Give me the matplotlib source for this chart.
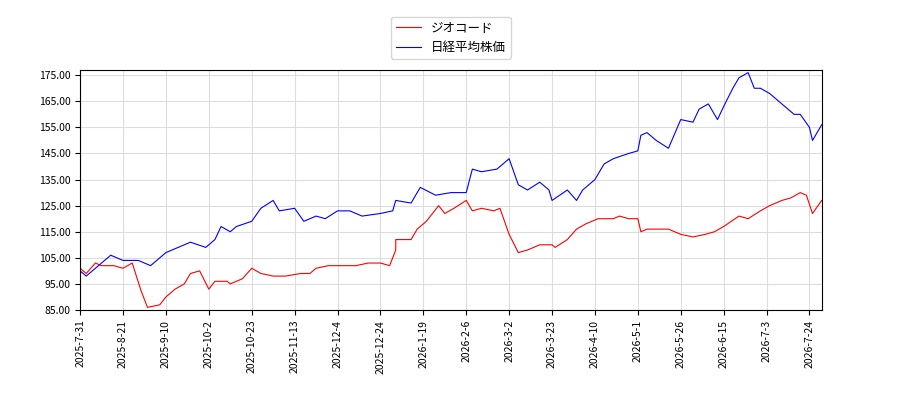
import matplotlib
matplotlib.use("Agg")
import matplotlib.pyplot as plt
import numpy as np
import pandas as pd

plt.rcParams['font.family'] = ['Noto Sans CJK JP', 'DejaVu Sans']

# ジオコード (red)
geo_dates = ["2025-07-31", "2025-08-03", "2025-08-07", "2025-08-12", "2025-08-18", "2025-08-21",
             "2025-08-26", "2025-08-29", "2025-09-02", "2025-09-06", "2025-09-10", "2025-09-15",
             "2025-09-19", "2025-09-24", "2025-09-28", "2025-10-02", "2025-10-06", "2025-10-10",
             "2025-10-14", "2025-10-18", "2025-10-23", "2025-10-28", "2025-11-03", "2025-11-10",
             "2025-11-15", "2025-11-20", "2025-11-25", "2025-12-01", "2025-12-06", "2025-12-12",
             "2025-12-18", "2025-12-24", "2025-12-28", "2026-01-02", "2026-01-05", "2026-01-10",
             "2026-01-15", "2026-01-20", "2026-01-24", "2026-01-28", "2026-02-02", "2026-02-06",
             "2026-02-10", "2026-02-15", "2026-02-20", "2026-02-25", "2026-03-01", "2026-03-05",
             "2026-03-10", "2026-03-15", "2026-03-20", "2026-03-24", "2026-03-28", "2026-04-02",
             "2026-04-07", "2026-04-12", "2026-04-18", "2026-04-22", "2026-04-26", "2026-05-01",
             "2026-05-05", "2026-05-10", "2026-05-15", "2026-05-20", "2026-05-26", "2026-05-31",
             "2026-06-05", "2026-06-10", "2026-06-15", "2026-06-20", "2026-06-25", "2026-07-01",
             "2026-07-05", "2026-07-10", "2026-07-15", "2026-07-19", "2026-07-23", "2026-07-27",
             "2026-07-30"]
geo_vals = [101, 99, 103, 102, 102, 101, 103, 92, 86, 87, 90, 93,
            95, 99, 100, 93, 96, 96, 95, 97, 101, 99, 98, 98,
            99, 99, 101, 102, 102, 102, 103, 103, 102, 108, 112, 112,
            116, 119, 125, 122, 124, 127, 123, 124, 123, 124, 114, 107,
            108, 110, 110, 109, 112, 116, 118, 120, 120, 121, 120, 120,
            115, 116, 116, 116, 114, 113, 114, 115, 117, 121, 120, 123,
            125, 127, 128, 130, 129, 122, 127]

# 日経平均株価 (blue)
nk_dates = ["2025-07-31", "2025-08-03", "2025-08-10", "2025-08-15", "2025-08-21", "2025-08-28",
            "2025-09-03", "2025-09-10", "2025-09-17", "2025-09-24", "2025-10-01", "2025-10-04",
            "2025-10-08", "2025-10-12", "2025-10-16", "2025-10-23", "2025-10-28", "2025-11-02",
            "2025-11-06", "2025-11-13", "2025-11-18", "2025-11-23", "2025-11-28", "2025-12-04",
            "2025-12-10", "2025-12-16", "2025-12-24", "2025-12-30", "2026-01-05", "2026-01-10",
            "2026-01-16", "2026-01-23", "2026-01-30", "2026-02-06", "2026-02-10", "2026-02-16",
            "2026-02-22", "2026-03-01", "2026-03-05", "2026-03-10", "2026-03-14", "2026-03-19",
            "2026-03-23", "2026-03-28", "2026-04-02", "2026-04-06", "2026-04-10", "2026-04-15",
            "2026-04-20", "2026-04-26", "2026-05-01", "2026-05-04", "2026-05-10", "2026-05-14",
            "2026-05-20", "2026-05-26", "2026-05-30", "2026-06-03", "2026-06-07", "2026-06-11",
            "2026-06-15", "2026-06-18", "2026-06-22", "2026-06-25", "2026-06-28", "2026-07-01",
            "2026-07-04", "2026-07-08", "2026-07-12", "2026-07-16", "2026-07-20", "2026-07-24",
            "2026-07-27", "2026-07-30"]
nk_vals = [100, 98, 103, 106, 104, 104, 102, 107, 109, 111, 109, 112,
           117, 115, 117, 119, 124, 127, 123, 124, 119, 121, 120, 123,
           123, 121, 122, 123, 127, 126, 132, 129, 130, 130, 139, 138,
           139, 143, 133, 131, 134, 131, 127, 131, 127, 131, 135, 141,
           143, 145, 146, 152, 153, 150, 147, 158, 157, 162, 164, 158,
           163, 170, 174, 176, 170, 170, 168, 166, 163, 160, 160, 155,
           150, 156]

tick_dates = ["2025-07-31", "2025-08-21", "2025-09-10", "2025-10-02", "2025-10-23", "2025-11-13",
              "2025-12-04", "2025-12-24", "2026-01-19", "2026-02-06", "2026-03-02", "2026-03-23",
              "2026-04-10", "2026-05-01", "2026-05-26", "2026-06-15", "2026-07-03", "2026-07-24"]
y_ticks = [85, 95, 105, 115, 125, 135, 145, 155, 165, 175]

# 取引日ベースの横軸（市場休日）
holidays = ["2025-08-11", "2025-09-15", "2025-09-23", "2025-10-13", "2025-11-03", "2025-11-24",
            "2025-12-31", "2026-01-01", "2026-01-02", "2026-01-12", "2026-02-11", "2026-02-23",
            "2026-03-20", "2026-04-29", "2026-05-04", "2026-05-05", "2026-05-06", "2026-07-20"]
START = "2025-07-31"


def to_x(dates):
    d = np.array(dates, dtype="datetime64[D]")
    return np.busday_count(START, d, holidays=holidays)


fig = plt.figure(figsize=(9, 4), dpi=100)
ax = fig.add_axes([0.089, 0.225, 0.824, 0.6])
ax.plot(to_x(geo_dates), geo_vals, color="red", linewidth=0.8, label="ジオコード")
ax.plot(to_x(nk_dates), nk_vals, color="blue", linewidth=0.8, label="日経平均株価")

td = pd.to_datetime(tick_dates)
ax.set_xticks(to_x(tick_dates))
ax.set_xticklabels([f"{d.year}-{d.month}-{d.day}" for d in td], rotation=90, fontsize=7.5)
ax.set_yticks(y_ticks)
ax.set_yticklabels([f"{v:.2f}" for v in y_ticks], fontsize=7.5)
ax.set_ylim(85, 177)
ax.set_xlim(0, to_x(["2026-07-30"])[0])
ax.grid(True, color="#dddddd", linewidth=0.8)
ax.legend(loc="lower center", bbox_to_anchor=(0.5, 1.02), fontsize=9)

fig.savefig("out.png", dpi=100)
